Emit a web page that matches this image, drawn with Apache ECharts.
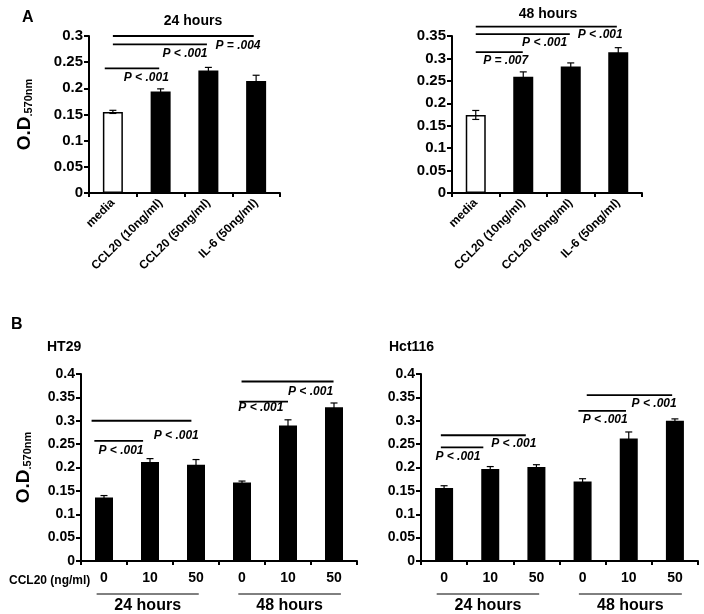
<!DOCTYPE html>
<html><head><meta charset="utf-8">
<script src="https://cdn.jsdelivr.net/npm/echarts@6/dist/echarts.min.js"></script>
<style>html,body{margin:0;padding:0;background:#fff}#c{width:704px;height:614px}</style>
</head><body><div id="c"></div>
<script>
// ---- data ----
const catsA = ['media', 'CCL20 (10ng/ml)', 'CCL20 (50ng/ml)', 'IL-6 (50ng/ml)'];
const a24 = [0.155, 0.194, 0.234, 0.214];
const a24err = [0.003, 0.005, 0.006, 0.011];
const a48 = [0.174, 0.259, 0.282, 0.314];
const a48err = [0.010, 0.011, 0.008, 0.010];
const catsB = ['0', '10', '50', '0', '10', '50'];
const groupsB = ['24 hours', '48 hours'];
const ht29 = [0.136, 0.212, 0.206, 0.168, 0.290, 0.329];
const ht29err = [0.004, 0.007, 0.011, 0.003, 0.012, 0.009];
const hct116 = [0.156, 0.197, 0.201, 0.170, 0.262, 0.300];
const hct116err = [0.005, 0.005, 0.005, 0.006, 0.014, 0.004];
// significance brackets: [fromCat, toCat, y, label, labelCat, labelY]
const sigA24 = [[0.0, 2.95, 0.300, 'P = .004', 2.62, 0.282], [0.0, 1.97, 0.284, 'P < .001', 1.51, 0.267], [-0.17, 0.97, 0.238, 'P < .001', 0.70, 0.221]];
const sigA48 = [[0.0, 2.97, 0.371, 'P < .001', 2.62, 0.352], [0.0, 1.98, 0.354, 'P < .001', 1.45, 0.335], [0.0, 0.99, 0.314, 'P = .007', 0.63, 0.295]];
const sigHT29 = [[-0.27, 1.9, 0.300, 'P < .001', 1.57, 0.267], [-0.21, 0.85, 0.257, 'P < .001', 0.37, 0.237], [2.99, 4.99, 0.384, 'P < .001', 4.49, 0.362], [2.94, 4.0, 0.341, 'P < .001', 3.41, 0.328]];
const sigHct116 = [[-0.07, 1.77, 0.269, 'P < .001', 1.51, 0.250], [-0.07, 0.85, 0.243, 'P < .001', 0.30, 0.223], [3.09, 4.94, 0.355, 'P < .001', 4.55, 0.337], [2.91, 3.94, 0.321, 'P < .001', 3.49, 0.302]];
const groupSpans = [[-0.16, 2.06], [2.92, 5.15]];

// ---- styling ----
const F = "'Liberation Sans', Arial, sans-serif";

const grids = [
  {left: 89, top: 36, width: 191, height: 157},
  {left: 452, top: 36, width: 190, height: 157},
  {left: 81, top: 374, width: 276, height: 187},
  {left: 421, top: 374, width: 277, height: 187}
];

function xAx(gi, cats, isA) {
  return {
    type: 'category', gridIndex: gi, data: cats,
    axisLine: {lineStyle: {color: '#000', width: 2}},
    axisTick: {show: true, length: 4, lineStyle: {color: '#000', width: 2}},
    axisLabel: isA ? {rotate: 45, interval: 0, margin: 8, color: '#000', fontFamily: F, fontWeight: 'bold', fontSize: 12}
                   : {interval: 0, margin: 10, color: '#000', fontFamily: F, fontWeight: 'bold', fontSize: 14}
  };
}
function yAx(gi, max, withName, gap, fs) {
  const ax = {
    type: 'value', gridIndex: gi, min: 0, max: max, interval: 0.05,
    splitLine: {show: false},
    axisLine: {show: true, lineStyle: {color: '#000', width: 2}},
    axisTick: {show: true, length: 5, lineStyle: {color: '#000', width: 2}},
    axisLabel: {color: '#000', fontFamily: F, fontWeight: 'bold', fontSize: fs, margin: 6,
      formatter: v => String(+v.toFixed(2))}
  };
  if (withName) {
    ax.name = '{a|O.D}{b|.570nm}';
    ax.nameLocation = 'middle';
    ax.nameRotate = 90;
    ax.nameGap = gap;
    ax.nameTextStyle = {rich: {
      a: {fontSize: 19, fontWeight: 'bold', fontFamily: F, color: '#000'},
      b: {fontSize: 11, fontWeight: 'bold', fontFamily: F, color: '#000', verticalAlign: 'bottom', padding: [6, 0, 0, 0]}
    }};
  }
  return ax;
}

function bars(gi, vals, bw, firstWhite) {
  return {
    type: 'bar', xAxisIndex: gi, yAxisIndex: gi, barWidth: bw, silent: true,
    data: vals.map((v, i) => ({value: v, itemStyle: (firstWhite && i === 0)
      ? {color: '#fff', borderColor: '#000', borderWidth: 1.5}
      : {color: '#000'}}))
  };
}
function errs(gi, vals, e) {
  return {
    type: 'custom', xAxisIndex: gi, yAxisIndex: gi, silent: true, z: 4, clip: false,
    data: vals.map((v, i) => [i, v, e[i]]),
    renderItem(params, api) {
      const x = api.value(0), y = api.value(1), d = api.value(2);
      const lo = api.coord([x, y - d]), hi = api.coord([x, y + d]);
      const s = {stroke: '#000', lineWidth: 1.2};
      return {type: 'group', children: [
        {type: 'line', shape: {x1: lo[0], y1: lo[1], x2: hi[0], y2: hi[1]}, style: s},
        {type: 'line', shape: {x1: hi[0] - 3.5, y1: hi[1], x2: hi[0] + 3.5, y2: hi[1]}, style: s},
        {type: 'line', shape: {x1: lo[0] - 3.5, y1: lo[1], x2: lo[0] + 3.5, y2: lo[1]}, style: s}
      ]};
    }
  };
}
function sigs(gi, arr, fs) {
  return {
    type: 'custom', xAxisIndex: gi, yAxisIndex: gi, silent: true, z: 5, clip: false,
    data: arr.map(s => [0, s[2]]),
    renderItem(params, api) {
      const s = arr[params.dataIndex];
      const c0 = api.coord([0, s[2]]), c1 = api.coord([1, s[2]]);
      const bw = c1[0] - c0[0];
      const t = api.coord([0, s[5]]);
      return {type: 'group', children: [
        {type: 'line', shape: {x1: c0[0] + s[0] * bw, y1: c0[1], x2: c0[0] + s[1] * bw, y2: c0[1]},
         style: {stroke: '#000', lineWidth: 1.8}},
        {type: 'text', x: c0[0] + s[4] * bw, y: t[1],
         style: {text: s[3], fill: '#000', fontSize: fs, fontWeight: 'bold', fontStyle: 'italic', fontFamily: F,
                 align: 'center', verticalAlign: 'middle'}}
      ]};
    }
  };
}
function groupLabels(gi) {
  return {
    type: 'custom', xAxisIndex: gi, yAxisIndex: gi, silent: true, clip: false,
    data: groupsB.map(() => [0, 0]),
    renderItem(params, api) {
      const sp = groupSpans[params.dataIndex];
      const c0 = api.coord([0, 0]), c1 = api.coord([1, 0]);
      const bw = c1[0] - c0[0];
      const xa = c0[0] + sp[0] * bw, xb = c0[0] + sp[1] * bw;
      return {type: 'group', children: [
        {type: 'line', shape: {x1: xa, y1: c0[1] + 33, x2: xb, y2: c0[1] + 33}, style: {stroke: '#000', lineWidth: 1}},
        {type: 'text', x: (xa + xb) / 2, y: c0[1] + 45,
         style: {text: groupsB[params.dataIndex], fill: '#000', fontSize: 16, fontWeight: 'bold', fontFamily: F,
                 align: 'center', verticalAlign: 'middle'}}
      ]};
    }
  };
}

const tStyle = (fs) => ({fontSize: fs, fontWeight: 'bold', fontFamily: F, color: '#000'});

const option = {
  animation: false,
  backgroundColor: '#fff',
  title: [
    {text: 'A', left: 17, top: 5, textStyle: tStyle(16)},
    {text: '24 hours', left: 188, top: 9, textAlign: 'center', textStyle: tStyle(14)},
    {text: '48 hours', left: 543, top: 2, textAlign: 'center', textStyle: tStyle(14)},
    {text: 'B', left: 6, top: 312, textStyle: tStyle(16)},
    {text: 'HT29', left: 42, top: 335, textStyle: tStyle(14)},
    {text: 'Hct116', left: 384, top: 335, textStyle: tStyle(14)},
    {text: 'CCL20 (ng/ml)', left: 4, top: 570, textStyle: tStyle(12)}
  ],
  grid: grids,
  xAxis: [xAx(0, catsA, true), xAx(1, catsA, true), xAx(2, catsB, false), xAx(3, catsB, false)],
  yAxis: [yAx(0, 0.3, true, 55, 15), yAx(1, 0.35, false, 0, 15), yAx(2, 0.4, true, 48, 14), yAx(3, 0.4, false, 0, 14)],
  series: [
    bars(0, a24, 20, true), errs(0, a24, a24err), sigs(0, sigA24, 12),
    bars(1, a48, 20, true), errs(1, a48, a48err), sigs(1, sigA48, 12),
    bars(2, ht29, 18, false), errs(2, ht29, ht29err), sigs(2, sigHT29, 12), groupLabels(2),
    bars(3, hct116, 18, false), errs(3, hct116, hct116err), sigs(3, sigHct116, 12), groupLabels(3)
  ]
};
const chart = echarts.init(document.getElementById('c'), null, {renderer: 'canvas'});
chart.setOption(option);
</script>
</body></html>
